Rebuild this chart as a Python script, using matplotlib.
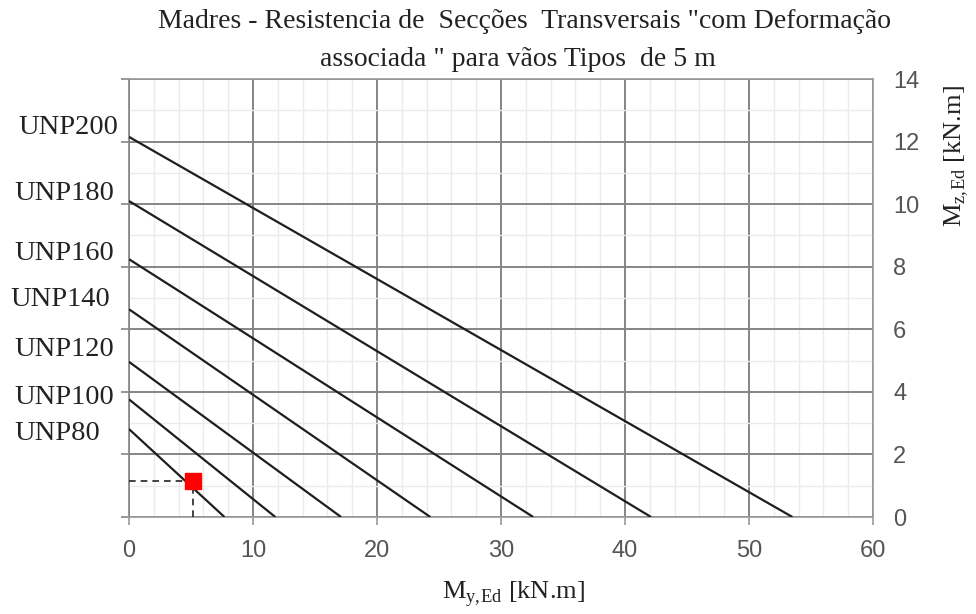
import matplotlib
matplotlib.use("Agg")
import matplotlib.pyplot as plt
from matplotlib.ticker import MultipleLocator

# ---------------------------------------------------------------------
# Data
# ---------------------------------------------------------------------

sections = ["UNP80", "UNP100", "UNP120", "UNP140", "UNP160", "UNP180", "UNP200"]
# M_z,Ed at M_y,Ed = 0  and  M_y,Ed at M_z,Ed = 0
mz_intercept = [2.81, 3.76, 4.96, 6.64, 8.24, 10.1, 12.15]
my_intercept = [7.7, 11.8, 17.1, 24.3, 32.6, 42.1, 53.5]

# design point (red marker)
point_my = 5.2
point_mz = 1.15

TITLE_1 = 'Madres - Resistencia de  Secções  Transversais "com Deformação'
TITLE_2 = 'associada " para vãos Tipos  de 5 m'

SERIF = ["Liberation Serif", "DejaVu Serif"]
NARROW = ["Liberation Sans Narrow", "Liberation Sans", "DejaVu Sans"]

# label positions, pixels in the 976x614 figure
label_x_px = [14, 14, 14, 10, 14, 14, 18]
label_y_px = [434, 397, 350, 299, 253, 194, 127]

W, H = 976, 614


def main() -> None:
    fig = plt.figure(figsize=(W / 100, H / 100), dpi=100)
    ax = fig.add_axes([129 / W, 1 - 517 / H, (873 - 129) / W, (517 - 79) / H])

    ax.set_xlim(0, 60)
    ax.set_ylim(0, 14)
    ax.xaxis.set_major_locator(MultipleLocator(10))
    ax.xaxis.set_minor_locator(MultipleLocator(2))
    ax.yaxis.set_major_locator(MultipleLocator(2))
    ax.yaxis.set_minor_locator(MultipleLocator(1))

    ax.grid(which="minor", color="#ebebeb", linewidth=1.0)
    ax.grid(which="major", color="#858585", linewidth=1.4)
    ax.set_axisbelow(True)

    for side in ["top", "right", "bottom", "left"]:
        ax.spines[side].set_color("#9a9a9a")
        ax.spines[side].set_linewidth(1.2)
    ax.spines["left"].set_color("#858585")

    tick_len = 6
    ax.tick_params(axis="y", which="major", left=True, right=False,
                   labelleft=False, labelright=True, length=tick_len, width=1.2,
                   color="#858585", pad=14.4 - tick_len, labelsize=17,
                   labelcolor="#555555")
    ax.tick_params(axis="x", which="major", bottom=True, length=tick_len,
                   width=1.2, color="#9a9a9a", pad=10.5, labelsize=17,
                   labelcolor="#555555")
    ax.tick_params(which="minor", length=0)
    for lab in ax.get_xticklabels() + ax.get_yticklabels():
        lab.set_family(NARROW)

    # section resistance lines
    for y0, x1 in zip(mz_intercept, my_intercept):
        ax.plot([0, x1], [y0, 0], color="#1e1e1e", linewidth=1.6,
                solid_capstyle="butt", zorder=3)

    # design point with dashed guides
    ax.plot([0, point_my], [point_mz, point_mz], color="#222222",
            linestyle=(0, (4, 3)), linewidth=1.2, zorder=3)
    ax.plot([point_my, point_my], [0, point_mz], color="#222222",
            linestyle=(0, (4, 3)), linewidth=1.2, zorder=3)
    ax.plot([point_my], [point_mz], marker="s", markersize=12,
            color="#ff0000", linestyle="none", zorder=4)

    # section names on the left
    for name, xpx, ypx in zip(sections, label_x_px, label_y_px):
        fig.text(xpx / W, 1 - ypx / H, name, family=SERIF, fontsize=20.5,
                 color="#222222", ha="left", va="center")

    fig.text(525 / W, 1 - 22 / H, TITLE_1, family=SERIF, fontsize=20,
             color="#222222", ha="center", va="center")
    fig.text(518 / W, 1 - 59 / H, TITLE_2, family=SERIF, fontsize=20,
             color="#222222", ha="center", va="center")

    fig.text(513 / W, 1 - 594 / H, r"M$_{\mathregular{y,\!Ed}}$ [kN.m]",
             family=SERIF, fontsize=19, color="#222222", ha="center", va="center")
    fig.text(957 / W, 1 - 156 / H, r"M$_{\mathregular{z,\!Ed}}$ [kN.m]",
             family=SERIF, fontsize=19, color="#222222", ha="center",
             va="center", rotation=90)

    fig.savefig("out.png", dpi=100)
    plt.close(fig)


if __name__ == "__main__":
    main()
